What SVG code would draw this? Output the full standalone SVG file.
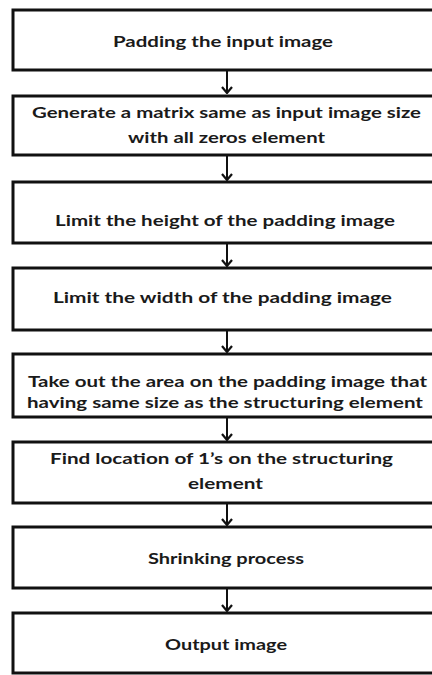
<svg xmlns="http://www.w3.org/2000/svg" width="432" height="675" viewBox="0 0 432 675">
<defs>
<style>
.box{fill:#fff;stroke:#111;stroke-width:3}
.t{font-family:Lato,"Open Sans","Liberation Sans",sans-serif;font-weight:bold;font-size:16px;fill:#1a1a1a;text-anchor:middle}
.c{stroke:#111;stroke-width:2;fill:none}
</style>
<marker id="ah" viewBox="0 0 8 12" refX="7" refY="6" markerWidth="8" markerHeight="12" markerUnits="userSpaceOnUse" orient="auto">
<path d="M1,1 L7,6 L1,11" fill="none" stroke="#111" stroke-width="2.2"/>
</marker>
</defs>
<rect width="432" height="675" fill="#fff"/>
<g id="connectors">
<line class="c" x1="227" y1="71" x2="227" y2="93" marker-end="url(#ah)"/>
<line class="c" x1="227" y1="156" x2="227" y2="180" marker-end="url(#ah)"/>
<line class="c" x1="227" y1="244" x2="227" y2="266" marker-end="url(#ah)"/>
<line class="c" x1="227" y1="331" x2="227" y2="352" marker-end="url(#ah)"/>
<line class="c" x1="227" y1="418" x2="227" y2="440" marker-end="url(#ah)"/>
<line class="c" x1="227" y1="504" x2="227" y2="525" marker-end="url(#ah)"/>
<line class="c" x1="227" y1="589" x2="227" y2="611" marker-end="url(#ah)"/>
</g>
<g id="n1"><rect class="box" x="13" y="10" width="430" height="60"/>
<text class="t" x="223" y="47" textLength="220" lengthAdjust="spacingAndGlyphs">Padding the input image</text></g>
<g id="n2"><rect class="box" x="13" y="96" width="430" height="59"/>
<text class="t" x="226.5" y="118" textLength="389" lengthAdjust="spacingAndGlyphs">Generate a matrix same as input image size</text>
<text class="t" x="226.5" y="143" textLength="197" lengthAdjust="spacingAndGlyphs">with all zeros element</text></g>
<g id="n3"><rect class="box" x="13" y="182" width="430" height="61"/>
<text class="t" x="225" y="226" textLength="340" lengthAdjust="spacingAndGlyphs">Limit the height of the padding image</text></g>
<g id="n4"><rect class="box" x="13" y="268" width="430" height="62"/>
<text class="t" x="222.5" y="303" textLength="339" lengthAdjust="spacingAndGlyphs">Limit the width of the padding image</text></g>
<g id="n5"><rect class="box" x="13" y="354" width="430" height="63"/>
<text class="t" x="227.5" y="387" textLength="399" lengthAdjust="spacingAndGlyphs">Take out the area on the padding image that</text>
<text class="t" x="225" y="408" textLength="396" lengthAdjust="spacingAndGlyphs">having same size as the structuring element</text></g>
<g id="n6"><rect class="box" x="13" y="442" width="430" height="61"/>
<text class="t" x="221.5" y="464" textLength="343" lengthAdjust="spacingAndGlyphs">Find location of 1’s on the structuring</text>
<text class="t" x="225.5" y="489" textLength="75" lengthAdjust="spacingAndGlyphs">element</text></g>
<g id="n7"><rect class="box" x="13" y="527" width="430" height="61"/>
<text class="t" x="226" y="564" textLength="156" lengthAdjust="spacingAndGlyphs">Shrinking process</text></g>
<g id="n8"><rect class="box" x="13" y="613" width="430" height="60"/>
<text class="t" x="226" y="650" textLength="122" lengthAdjust="spacingAndGlyphs">Output image</text></g>
</svg>
